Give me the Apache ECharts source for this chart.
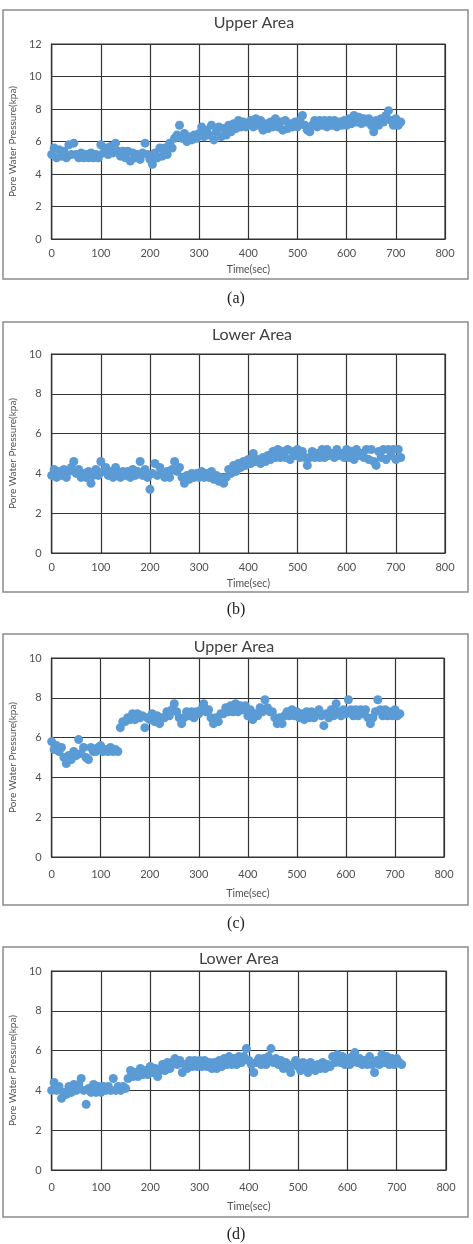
<!DOCTYPE html>
<html>
<head>
<meta charset="utf-8">
<script src="https://cdn.jsdelivr.net/npm/echarts@6/dist/echarts.min.js"></script>
<style>
  html, body { margin: 0; padding: 0; background: #fff; }
  #main { width: 473px; height: 1244px; }
</style>
</head>
<body>
<div id="main"></div>
<script>
// sample times (sec), one reading every 5 s
const secs = [
  0, 5, 10, 15, 20, 25, 30, 35, 40, 45, 50, 55, 60, 65, 70, 75, 80, 85, 90, 95,
  100, 105, 110, 115, 120, 125, 130, 135, 140, 145, 150, 155, 160, 165, 170, 175, 180, 185, 190, 195,
  200, 205, 210, 215, 220, 225, 230, 235, 240, 245, 250, 255, 260, 265, 270, 275, 280, 285, 290, 295,
  300, 305, 310, 315, 320, 325, 330, 335, 340, 345, 350, 355, 360, 365, 370, 375, 380, 385, 390, 395,
  400, 405, 410, 415, 420, 425, 430, 435, 440, 445, 450, 455, 460, 465, 470, 475, 480, 485, 490, 495,
  500, 505, 510, 515, 520, 525, 530, 535, 540, 545, 550, 555, 560, 565, 570, 575, 580, 585, 590, 595,
  600, 605, 610, 615, 620, 625, 630, 635, 640, 645, 650, 655, 660, 665, 670, 675, 680, 685, 690, 695,
  700, 705, 710
]

// (a) Upper Area, kpa
const upperA = [
  5.2, 5.6, 5.0, 5.5, 5.1, 5.4, 5.0, 5.8, 5.2, 5.9,
  5.2, 5.0, 5.3, 5.0, 5.2, 5.0, 5.3, 5.0, 5.2, 5.0,
  5.8, 5.3, 5.6, 5.2, 5.7, 5.3, 5.9, 5.4, 5.1, 5.4,
  5.0, 5.4, 4.8, 5.3, 5.0, 5.2, 4.9, 5.3, 5.9, 5.2,
  4.9, 4.6, 5.3, 5.0, 5.6, 5.1, 5.6, 5.2, 5.9, 5.6,
  6.2, 6.4, 7.0, 6.2, 6.5, 6.0, 6.3, 6.1, 6.4, 6.2,
  6.5, 6.9, 6.3, 6.7, 6.4, 7.0, 6.1, 6.6, 6.9, 6.3,
  6.8, 6.4, 7.0, 6.6, 7.1, 6.8, 7.3, 6.9, 7.2, 6.9,
  7.1, 7.3, 6.9, 7.4, 7.0, 7.3, 6.7, 7.1, 6.8, 7.2,
  6.9, 7.4, 6.9, 7.2, 6.7, 7.3, 6.8, 7.1, 6.9, 7.2,
  6.9, 7.3, 7.6, 7.0, 6.7, 6.6, 7.0, 7.3, 6.9, 7.3,
  7.0, 7.3, 6.9, 7.3, 7.0, 7.3, 6.9, 7.2, 7.0, 7.3,
  7.0, 7.4, 7.1, 7.6, 7.2, 7.5, 7.1, 7.4, 7.2, 7.4,
  7.0, 6.6, 7.3, 7.0, 7.4, 7.2, 7.6, 7.9, 7.3, 7.0,
  7.4, 7.0, 7.2
]

// (b) Lower Area, kpa
const lowerB = [
  3.9, 4.2, 3.8, 4.1, 3.9, 4.2, 3.8, 4.1, 4.3, 4.6,
  4.0, 4.2, 3.8, 4.0, 3.8, 4.1, 3.5, 3.9, 4.2, 3.9,
  4.6, 4.1, 4.3, 3.9, 4.1, 3.8, 4.3, 4.0, 3.8, 4.1,
  3.9, 4.1, 3.8, 4.2, 3.9, 4.1, 4.6, 3.9, 4.2, 3.8,
  3.2, 4.0, 4.5, 3.9, 4.3, 4.0, 3.8, 4.1, 3.8, 4.2,
  4.6, 4.1, 4.3, 3.8, 3.5, 3.9, 3.7, 4.0, 3.8, 4.0,
  3.8, 4.1, 3.8, 4.0, 3.8, 4.1, 3.7, 3.9, 3.6, 3.8,
  3.5, 3.8, 4.2, 4.0, 4.4, 4.1, 4.5, 4.3, 4.6, 4.4,
  4.7, 4.5, 5.0, 4.6, 4.7, 4.5, 4.8, 4.6, 4.9, 4.7,
  5.1, 4.8, 5.2, 4.8, 5.1, 4.8, 5.2, 4.7, 5.1, 4.9,
  5.2, 4.8, 5.1, 4.8, 4.4, 4.8, 5.1, 4.8, 5.0, 4.8,
  5.2, 4.8, 5.2, 4.9, 5.0, 4.8, 5.2, 4.9, 5.0, 4.8,
  5.2, 4.8, 5.1, 4.7, 5.2, 4.9, 5.0, 4.8, 5.2, 4.7,
  5.2, 4.6, 4.4, 5.1, 4.8, 5.2, 4.7, 5.2, 4.9, 5.2,
  4.7, 5.2, 4.8
]

// (c) Upper Area, kpa
const upperC = [
  5.8, 5.4, 5.6, 5.3, 5.5, 5.0, 4.7, 5.1, 4.9, 5.3,
  5.1, 5.9, 5.2, 5.5, 5.0, 4.9, 5.5, 5.3, 5.3, 5.5,
  5.6, 5.3, 5.4, 5.3, 5.5, 5.3, 5.4, 5.3, 6.5, 6.8,
  6.8, 7.0, 6.9, 7.2, 6.9, 7.2, 7.0, 7.1, 6.5, 7.0,
  6.9, 7.2, 6.8, 7.1, 6.7, 7.0, 7.0, 7.3, 7.1, 7.4,
  7.7, 7.3, 7.0, 6.7, 7.0, 7.3, 7.1, 7.3, 7.0, 7.3,
  7.2, 7.4, 7.7, 7.3, 7.4, 7.0, 6.7, 7.0, 6.8, 7.2,
  7.2, 7.5, 7.3, 7.6, 7.3, 7.7, 7.3, 7.6, 7.4, 7.6,
  7.1, 7.4, 6.9, 7.2, 7.1, 7.5, 7.3, 7.9, 7.5, 7.3,
  7.3, 7.0, 6.7, 7.0, 6.7, 7.1, 7.3, 7.1, 7.4, 7.1,
  7.3, 7.0, 7.2, 6.9, 7.3, 7.0, 7.3, 7.0, 7.2, 7.4,
  7.1, 6.6, 7.2, 7.0, 7.4, 7.1, 7.7, 7.3, 7.1, 7.4,
  7.2, 7.9, 7.4, 7.1, 7.4, 7.1, 7.4, 7.2, 7.4, 7.0,
  6.7, 7.0, 7.3, 7.9, 7.4, 7.1, 7.4, 7.1, 7.3, 7.1,
  7.4, 7.1, 7.2
]

// (d) Lower Area, kpa
const lowerD = [
  4.0, 4.4, 4.0, 4.2, 3.6, 3.9, 3.8, 4.2, 3.9, 4.3,
  4.0, 4.3, 4.6, 4.0, 3.3, 4.1, 3.9, 4.3, 3.9, 4.2,
  3.9, 4.2, 4.0, 4.2, 4.0, 4.6, 4.0, 4.2, 4.0, 4.2,
  4.1, 4.6, 5.0, 4.7, 4.9, 4.7, 5.1, 4.8, 5.0, 4.8,
  5.2, 4.9, 5.1, 4.7, 5.0, 5.3, 5.0, 5.4, 5.1, 5.4,
  5.6, 5.3, 5.5, 4.9, 5.3, 5.1, 5.5, 5.2, 5.5, 5.2,
  5.5, 5.2, 5.5, 5.2, 5.4, 5.1, 5.4, 5.1, 5.5, 5.2,
  5.6, 5.3, 5.7, 5.3, 5.6, 5.3, 5.7, 5.4, 5.7, 6.1,
  5.5, 5.3, 4.9, 5.4, 5.6, 5.3, 5.6, 5.3, 5.7, 6.1,
  5.4, 5.6, 5.3, 5.5, 5.1, 5.4, 5.1, 4.9, 5.3, 5.5,
  5.2, 5.0, 5.4, 5.2, 4.9, 5.4, 5.1, 5.0, 5.3, 5.1,
  5.4, 5.1, 5.3, 5.2, 5.7, 5.4, 5.8, 5.4, 5.7, 5.3,
  5.6, 5.3, 5.7, 5.9, 5.4, 5.6, 5.3, 5.5, 5.3, 5.7,
  5.3, 4.9, 5.5, 5.3, 5.8, 5.4, 5.7, 5.3, 5.6, 5.3,
  5.6, 5.4, 5.3
]

const titles = ['Upper Area', 'Lower Area', 'Upper Area', 'Lower Area']
const captions = ['(a)', '(b)', '(c)', '(d)']
const yMax = [12, 10, 10, 10]
const series = [upperA, lowerB, upperC, lowerD]

// page layout of the four panels
const panels = [
  { box: [3, 10, 465, 269], grid: [46, 44, 399, 195], title: [254, 23], cap: 299, yGap: 28, xGap: 25, lblGap: 9 },
  { box: [3, 322, 465, 270], grid: [47, 354, 398, 199], title: [252, 335], cap: 610, yGap: 28, xGap: 25, lblGap: 9 },
  { box: [3, 634, 465, 271], grid: [41, 658, 403, 199], title: [234, 647], cap: 924, yGap: 24, xGap: 31, lblGap: 12 },
  { box: [3, 947, 465, 270], grid: [38, 971, 408, 199], title: [239, 959], cap: 1235, yGap: 20, xGap: 31, lblGap: 12 }
]

const font = 'Lato'
const gray = '#505050'
const lineColor = '#333'

const chart = echarts.init(document.getElementById('main'))

const grid = [], xAxis = [], yAxis = [], seriesOpt = [], graphic = []
panels.forEach((p, i) => {
  grid.push({
    left: p.grid[0], top: p.grid[1], width: p.grid[2], height: p.grid[3],
    show: true, borderColor: lineColor, borderWidth: 1.2, backgroundColor: '#fff'
  })
  xAxis.push({
    gridIndex: i, type: 'value', min: 0, max: 800, interval: 100,
    name: 'Time(sec)', nameLocation: 'middle', nameGap: p.xGap,
    nameTextStyle: { color: gray, fontSize: 10.5, fontFamily: font },
    axisLine: { show: true, lineStyle: { color: lineColor, width: 1.2 } },
    axisTick: { show: false },
    axisLabel: { color: gray, fontSize: 11, fontFamily: font, margin: p.lblGap },
    splitLine: { show: true, lineStyle: { color: lineColor, width: 1.2 } }
  })
  yAxis.push({
    gridIndex: i, type: 'value', min: 0, max: yMax[i], interval: 2,
    name: 'Pore Water Pressure(kpa)', nameLocation: 'middle', nameGap: p.yGap,
    nameTextStyle: { color: gray, fontSize: 10, fontFamily: font },
    axisLine: { show: true, lineStyle: { color: lineColor, width: 1.2 } },
    axisTick: { show: false },
    axisLabel: { color: gray, fontSize: 11, fontFamily: font, margin: 10 },
    splitLine: { show: true, lineStyle: { color: lineColor, width: 1.2 } }
  })
  seriesOpt.push({
    type: 'scatter', xAxisIndex: i, yAxisIndex: i,
    symbol: 'circle', symbolSize: 9,
    itemStyle: { color: '#5B9BD5', opacity: 1 },
    data: secs.map((t, k) => [t, series[i][k]]),
    silent: true
  })
  graphic.push({
    type: 'rect', z: -1,
    shape: { x: p.box[0], y: p.box[1], width: p.box[2], height: p.box[3] },
    style: { fill: '#fff', stroke: '#8c8c8c', lineWidth: 1.5 }
  })
  graphic.push({
    type: 'text', x: p.title[0], y: p.title[1],
    style: { text: titles[i], font: '16px Lato', fill: '#404040', align: 'center', verticalAlign: 'middle' }
  })
  graphic.push({
    type: 'text', x: 236, y: p.cap,
    style: { text: captions[i], font: '16px "Liberation Serif"', fill: '#222', align: 'center', verticalAlign: 'middle' }
  })
})

chart.setOption({
  animation: false,
  backgroundColor: '#fff',
  grid: grid,
  xAxis: xAxis,
  yAxis: yAxis,
  series: seriesOpt,
  graphic: graphic
})
</script>
</body>
</html>
